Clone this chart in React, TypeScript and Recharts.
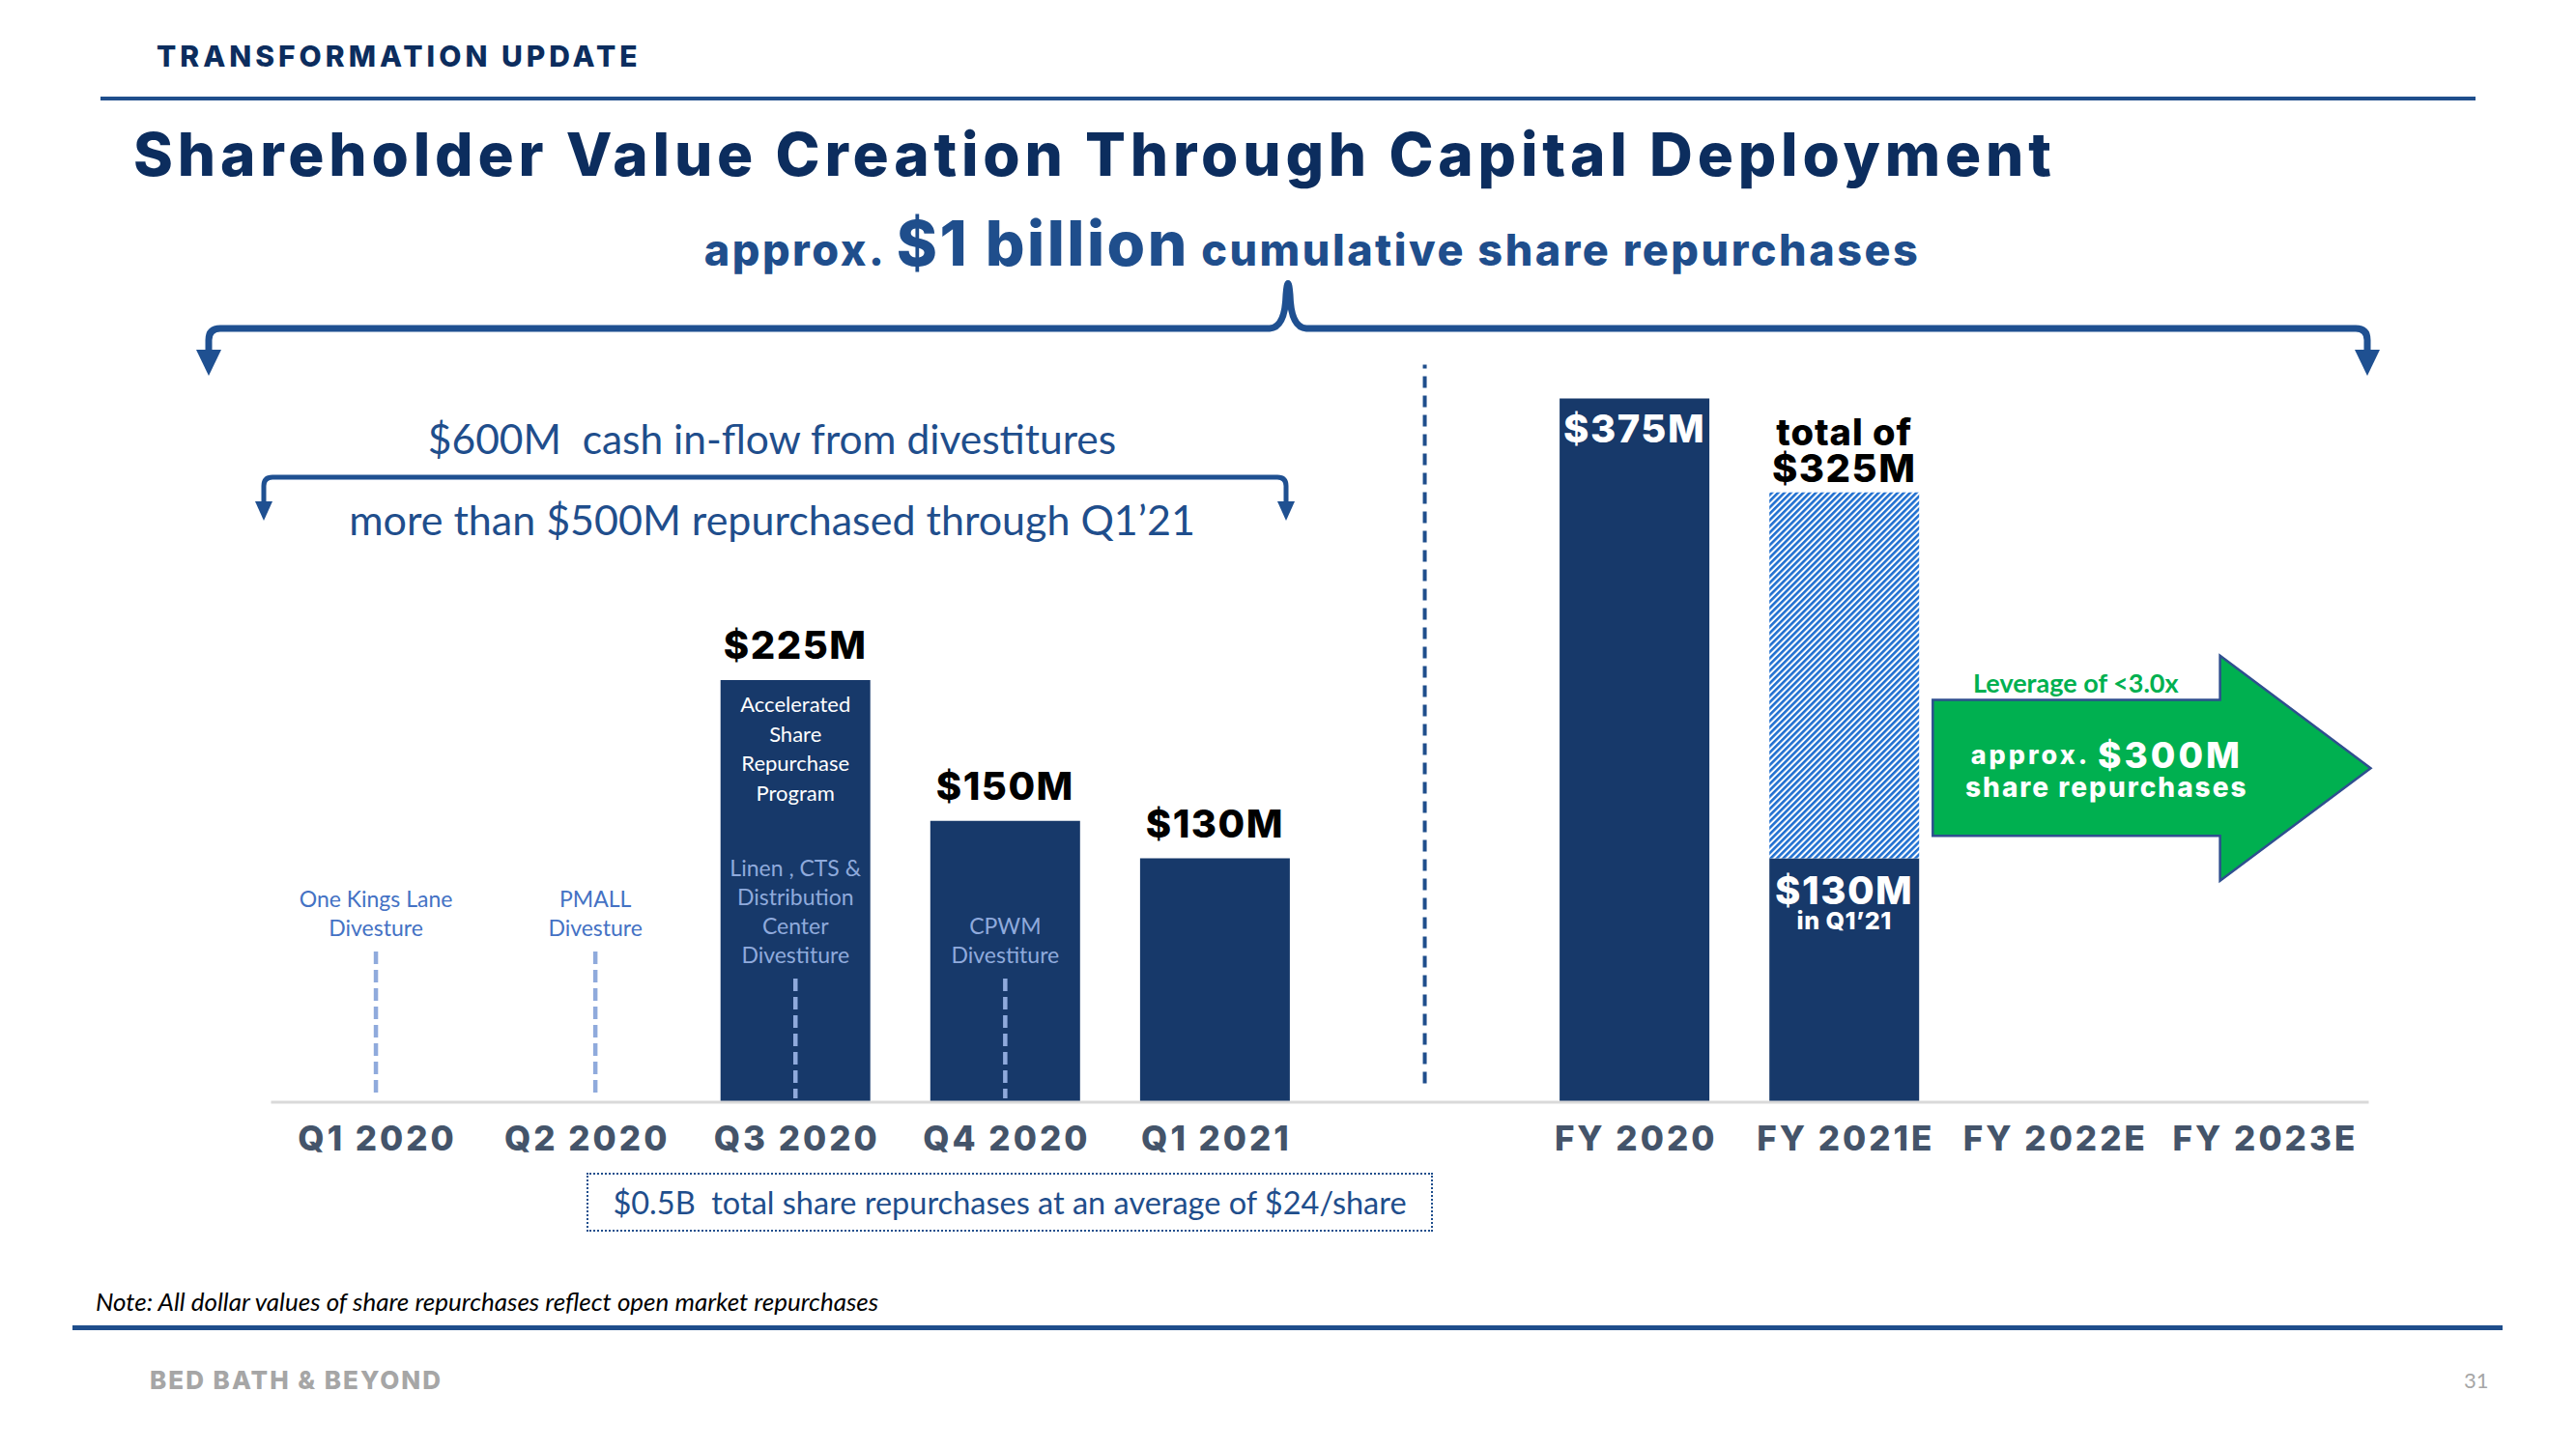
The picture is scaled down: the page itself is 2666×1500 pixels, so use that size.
import React from 'react';
import { BarChart, Bar, XAxis, YAxis, LabelList, ReferenceLine, ReferenceArea } from 'recharts';

const categories = ['Q1 2020', 'Q2 2020', 'Q3 2020', 'Q4 2020', 'Q1 2021', ' ', 'FY 2020', 'FY 2021E', 'FY 2022E', 'FY 2023E'];
// share repurchases, $M (FY 2021E = the $130M done in Q1'21)
const repurchased = [0, 0, 225, 150, 130, 0, 375, 130, 0, 0];
// rest of the FY 2021E plan, total of $325M
const remaining = [0, 0, 0, 0, 0, 0, 0, 195, 0, 0];
const divestitures = [
  ['One Kings Lane', 'Divesture'],
  ['PMALL', 'Divesture'],
  ['Linen , CTS &', 'Distribution', 'Center', 'Divestiture'],
  ['CPWM', 'Divestiture'],
  [], [], [], [], [], [],
];
const programNotes = [[], [], ['Accelerated', 'Share', 'Repurchase', 'Program'], [], [], [], [], [], [], []];

const data = categories.map((name, i) => ({ name, repurchased: repurchased[i], remaining: remaining[i] }));

const NAVY = '#0C2D5E';
const BAR = '#17396A';
const BLUE = '#1F4E8C';
const GEO = 'Inter, "DejaVu Sans", sans-serif';
const CAL = 'Lato, "Open Sans", sans-serif';

const W = 2666;
const M = { top: 364, right: 214.5, bottom: 99, left: 280.5 };
const BAND = (W - M.left - M.right) / categories.length;

const boxOf = (props: any) => {
  const vb = props.viewBox && props.viewBox.width !== undefined ? props.viewBox : props;
  return { x: Number(vb.x), y: Number(vb.y), width: Number(vb.width), height: Number(vb.height) };
};

// which category a label belongs to, from the bar's own centre
const catAt = (cx: number) => Math.floor((cx - M.left) / BAND);

const bold = { fontFamily: GEO, fontWeight: 800 } as const;

const RepurchaseLabel = (props: any) => {
  const { x, y, width } = boxOf(props);
  if (isNaN(x)) return null;
  const cx = x + width / 2;
  const i = catAt(cx);
  if (!(i >= 0 && i < categories.length)) return null;
  const name = categories[i];
  const v = repurchased[i];
  const out: any[] = [];

  if (v > 0 && name.startsWith('Q')) {
    out.push(<text key="v" x={cx} y={y - 36} textAnchor="middle" dominantBaseline="central" fontSize={40} letterSpacing={1.5} fill="#000" {...bold}>{`$${v}M`}</text>);
  }
  if (name === 'FY 2020') {
    out.push(<text key="v" x={cx} y={y + 31} textAnchor="middle" dominantBaseline="central" fontSize={40} letterSpacing={1.5} fill="#fff" {...bold}>{`$${v}M`}</text>);
  }
  if (name === 'FY 2021E') {
    out.push(<text key="v" x={cx} y={y + 33} textAnchor="middle" dominantBaseline="central" fontSize={40} letterSpacing={1.5} fill="#fff" {...bold}>{`$${v}M`}</text>);
    out.push(<text key="q" x={cx} y={y + 65} textAnchor="middle" dominantBaseline="central" fontSize={25} letterSpacing={0.5} fill="#fff" {...bold}>in Q1’21</text>);
  }
  programNotes[i].forEach((t, k) => {
    out.push(<text key={'p' + k} x={cx} y={y + 25 + k * 30.5} textAnchor="middle" dominantBaseline="central" fontSize={22} fill="#fff" fontFamily={CAL}>{t}</text>);
  });
  return <g>{out}</g>;
};

const TotalLabel = (props: any) => {
  const { x, y, width } = boxOf(props);
  if (isNaN(x)) return null;
  const cx = x + width / 2;
  const i = catAt(cx);
  if (!(i >= 0 && i < categories.length) || !(remaining[i] > 0)) return null;
  const total = repurchased[i] + remaining[i];
  return (
    <g fontFamily={GEO} fontWeight={800} fill="#000" textAnchor="middle">
      <text x={cx} y={y - 63} dominantBaseline="central" fontSize={38} letterSpacing={1}>total of</text>
      <text x={cx} y={y - 25} dominantBaseline="central" fontSize={40} letterSpacing={1.5}>{`$${total}M`}</text>
    </g>
  );
};

const HatchBar = (props: any) => {
  const { x, y, width, height } = props;
  if (!height || height <= 0) return null;
  return (
    <g>
      <defs>
        <pattern id="hatch" patternUnits="userSpaceOnUse" width={4.6} height={4.6} patternTransform="rotate(45)">
          <rect x={0} y={0} width={4.6} height={4.6} fill="#fff" />
          <rect x={0} y={0} width={2.6} height={4.6} fill="#1F6FD0" />
        </pattern>
      </defs>
      <rect x={x} y={y} width={width} height={height} fill="url(#hatch)" />
    </g>
  );
};

const GreenArrow = (props: any) => {
  const { x, y, width, height } = props;
  if (isNaN(x)) return null;
  const left = x - 17;
  const right = x + width + 2;
  const headX = left + (right - left) * 0.656;
  const bTop = y + height * 0.197;
  const bBot = y + height * 0.8;
  const midY = y + height / 2;
  const pts = [
    [left, bTop], [headX, bTop], [headX, y], [right, midY], [headX, y + height], [headX, bBot], [left, bBot],
  ].map((p) => p.join(',')).join(' ');
  return (
    <g>
      <polygon points={pts} fill="#00B050" stroke="#2F4F8F" strokeWidth={2.5} />
      <text x={left + 148} y={bTop - 18} textAnchor="middle" dominantBaseline="central" fontFamily={CAL} fontWeight={700} fontSize={27} fill="#00B050">Leverage of &lt;3.0x</text>
      <text x={left + 180} y={midY - 14} textAnchor="middle" dominantBaseline="central" fontFamily={GEO} fontWeight={800} fill="#fff" letterSpacing={3}>
        <tspan fontSize={27}>approx. </tspan>
        <tspan fontSize={37}>$300M</tspan>
      </text>
      <text x={left + 180} y={midY + 20} textAnchor="middle" dominantBaseline="central" fontFamily={GEO} fontWeight={800} fontSize={28} letterSpacing={2} fill="#fff">share repurchases</text>
    </g>
  );
};

// category tick, plus the divestiture notes that stand on the baseline
const Tick = (props: any) => {
  const { x, y, payload } = props;
  const i = categories.indexOf(payload.value);
  const lines = i >= 0 ? divestitures[i] : [];
  const inside = i >= 0 && repurchased[i] > 0;
  const lastY = inside ? y - 153 : y - 181;
  const lx = i === 1 ? x + 10 : x;
  return (
    <g>
      <text x={x + 1.5} y={y + 37} textAnchor="middle" dominantBaseline="central" fontFamily={GEO} fontWeight={800} fontSize={35} letterSpacing={3} fill="#44546A">
        {payload.value}
      </text>
      {lines.map((t, k) => (
        <text key={k} x={lx} y={lastY - (lines.length - 1 - k) * 30} textAnchor="middle" dominantBaseline="central"
          fontSize={23} fill={inside ? '#8FAADC' : '#4472C4'} fontFamily={CAL}>{t}</text>
      ))}
      {lines.length > 0 && (
        <line x1={lx} x2={lx} y1={lastY + 25} y2={y - 4} stroke="#8FAADC" strokeWidth={4.5} strokeDasharray="13 6" />
      )}
    </g>
  );
};

const T = ({ x, y, center, style, children }: any) => (
  <div
    style={{
      position: 'absolute', left: x, top: y, whiteSpace: 'pre', lineHeight: 1,
      transform: center ? 'translate(-50%, -50%)' : 'translateY(-50%)', ...style,
    }}
  >
    {children}
  </div>
);

export default function App() {
  return (
    <div style={{ position: 'absolute', left: 0, top: 0, width: W, height: 1500, background: '#fff', overflow: 'hidden' }}>
      <div style={{ position: 'absolute', left: 0, top: 0 }}>
        <BarChart width={W} height={1300} data={data} margin={M}>
          <YAxis hide type="number" domain={[0, 400]} />
          <ReferenceLine
            segment={[{ x: ' ', y: 10 }, { x: ' ', y: 393 }]}
            stroke={BLUE}
            strokeWidth={4}
            strokeDasharray="12 8"
          />
          <Bar dataKey="repurchased" stackId="a" fill={BAR} barSize={155} isAnimationActive={false}>
            <LabelList dataKey="repurchased" content={<RepurchaseLabel />} />
          </Bar>
          <Bar dataKey="remaining" stackId="a" fill="#1F6FD0" barSize={155} shape={<HatchBar />} isAnimationActive={false}>
            <LabelList dataKey="remaining" content={<TotalLabel />} />
          </Bar>
          <XAxis
            dataKey="name"
            interval={0}
            height={60}
            tickLine={false}
            tickSize={0}
            tickMargin={0}
            axisLine={{ stroke: '#D9D9D9', strokeWidth: 3 }}
            tick={<Tick />}
          />
          <ReferenceArea x1="FY 2022E" x2="FY 2023E" y1={118} y2={238} shape={<GreenArrow />} ifOverflow="visible" />
        </BarChart>
      </div>

      {/* braces */}
      <svg width={W} height={1500} style={{ position: 'absolute', left: 0, top: 0, pointerEvents: 'none' }}>
        <path
          d="M 216 366 L 216 352 Q 216 340 228 340 L 1314 340 Q 1330 339 1331 305 Q 1333 282 1335 305 Q 1336 339 1352 340 L 2438 340 Q 2450 340 2450 352 L 2450 366"
          fill="none" stroke="#1F5091" strokeWidth={7} strokeLinejoin="round" strokeLinecap="round"
        />
        <polygon points="203,362 229,362 216,389" fill="#1F5091" />
        <polygon points="2437,362 2463,362 2450,389" fill="#1F5091" />
        <path
          d="M 273 522 L 273 503 Q 273 494 282 494 L 1322 494 Q 1331 494 1331 503 L 1331 522"
          fill="none" stroke="#1F5091" strokeWidth={5} strokeLinejoin="round"
        />
        <polygon points="264,519 282,519 273,539" fill="#1F5091" />
        <polygon points="1322,519 1340,519 1331,539" fill="#1F5091" />
      </svg>

      {/* header */}
      <T x={162} y={58} style={{ fontFamily: GEO, fontWeight: 800, fontSize: 30, color: NAVY, letterSpacing: 4 }}>
        TRANSFORMATION UPDATE
      </T>
      <div style={{ position: 'absolute', left: 104, top: 100, width: 2458, height: 4, background: BLUE }} />
      <T x={138} y={160} style={{ fontFamily: GEO, fontWeight: 800, fontSize: 62, color: NAVY, letterSpacing: 4.8 }}>
        Shareholder Value Creation Through Capital Deployment
      </T>
      <T x={1358} y={252} center style={{ fontFamily: GEO, fontWeight: 800, color: BLUE, lineHeight: 1.1, letterSpacing: 2.5 }}>
        <span style={{ fontSize: 45 }}>approx. </span>
        <span style={{ fontSize: 64 }}>$1 billion</span>
        <span style={{ fontSize: 45 }}> cumulative share repurchases</span>
      </T>

      <T x={799} y={454} center style={{ fontFamily: CAL, fontSize: 42.5, color: BLUE }}>
        $600M  cash in-flow from divestitures
      </T>
      <T x={799} y={537} center style={{ fontFamily: CAL, fontSize: 43, color: BLUE }}>
        more than $500M repurchased through Q1’21
      </T>

      {/* footnote box */}
      <div
        style={{
          position: 'absolute', left: 607, top: 1214, width: 876, height: 61, boxSizing: 'border-box',
          border: `2px dotted ${BLUE}`, display: 'flex', alignItems: 'center', justifyContent: 'center',
          fontFamily: CAL, fontSize: 32.5, color: BLUE, whiteSpace: 'pre',
        }}
      >
        $0.5B  total share repurchases at an average of $24/share
      </div>

      <T x={99} y={1347} style={{ fontFamily: CAL, fontStyle: 'italic', fontSize: 26, color: '#000' }}>
        Note: All dollar values of share repurchases reflect open market repurchases
      </T>
      <div style={{ position: 'absolute', left: 75, top: 1372, width: 2515, height: 5, background: BLUE }} />
      <T x={155} y={1429} style={{ fontFamily: GEO, fontWeight: 800, fontSize: 26, color: '#A6A6A6', letterSpacing: 2 }}>
        BED BATH &amp; BEYOND
      </T>
      <T x={2550} y={1429} style={{ fontFamily: CAL, fontSize: 22, color: '#A6A6A6' }}>
        31
      </T>
    </div>
  );
}
